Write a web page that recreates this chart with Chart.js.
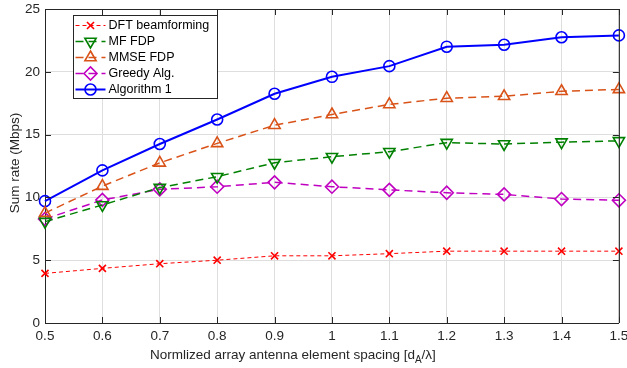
<!DOCTYPE html>
<html>
<head>
<meta charset="utf-8">
<script src="https://cdn.jsdelivr.net/npm/chart.js@4.4.1/dist/chart.umd.min.js"></script>
<style>
  html, body { margin: 0; padding: 0; background: #fff; }
  #wrap { width: 627px; height: 368px; }
</style>
</head>
<body>
<div id="wrap"><canvas id="rateChart" width="627" height="368"></canvas></div>
<script>
// values
const spacing = ['0.5', '0.6', '0.7', '0.8', '0.9', '1', '1.1', '1.2', '1.3', '1.4', '1.5'];
const dftBeamforming = [3.95, 4.35, 4.72, 5.0, 5.35, 5.35, 5.52, 5.72, 5.72, 5.72, 5.72];
const mfFdp = [8.07, 9.4, 10.78, 11.65, 12.76, 13.24, 13.64, 14.36, 14.25, 14.4, 14.5];
const mmseFdp = [8.75, 10.9, 12.75, 14.3, 15.75, 16.6, 17.4, 17.9, 18.05, 18.45, 18.6];
const greedyAlg = [8.28, 9.8, 10.64, 10.85, 11.2, 10.85, 10.6, 10.37, 10.24, 9.87, 9.77];
const algorithm1 = [9.7, 12.15, 14.25, 16.2, 18.25, 19.6, 20.45, 22.0, 22.15, 22.75, 22.9];
const yTicks = [0, 5, 10, 15, 20, 25];

const axisColor = '#262626';
const gridColor = '#dedede';
const fontFamily = '"Liberation Sans", Arial, Helvetica, sans-serif';

function series(label, data, color, style, dash, width, radius, rotation) {
    return {
        label: label,
        data: data,
        borderColor: color,
        borderWidth: width,
        borderDash: dash,
        pointStyle: style,
        pointRotation: rotation || 0,
        pointRadius: radius,
        pointHoverRadius: radius,
        pointBorderColor: color,
        pointBackgroundColor: 'rgba(0,0,0,0)',
        pointBorderWidth: 1.6,
        tension: 0,
        fill: false,
        clip: false
    };
}

// box, inward ticks and axis titles, like a matlab figure
const framePlugin = {
    id: 'frame',
    afterDraw(chart) {
        const { ctx, chartArea: a } = chart;
        const xs = chart.scales.x, ys = chart.scales.y;
        const tl = 6;
        ctx.save();
        ctx.strokeStyle = axisColor;
        ctx.lineWidth = 1;
        ctx.beginPath();
        ctx.moveTo(a.left, a.top + 0.5);
        ctx.lineTo(a.right + 0.5, a.top + 0.5);
        ctx.lineTo(a.right + 0.5, a.bottom);
        ctx.stroke();
        ctx.beginPath();
        spacing.forEach((s, i) => {
            const px = Math.round(xs.getPixelForValue(i)) + 0.5;
            ctx.moveTo(px, a.bottom); ctx.lineTo(px, a.bottom - tl);
            ctx.moveTo(px, a.top); ctx.lineTo(px, a.top + tl);
        });
        yTicks.forEach(v => {
            const py = Math.round(ys.getPixelForValue(v)) + 0.5;
            ctx.moveTo(a.left, py); ctx.lineTo(a.left + tl, py);
            ctx.moveTo(a.right, py); ctx.lineTo(a.right - tl, py);
        });
        ctx.stroke();

        // y title
        ctx.fillStyle = axisColor;
        ctx.font = '13.5px ' + fontFamily;
        ctx.textAlign = 'center';
        ctx.textBaseline = 'middle';
        ctx.save();
        ctx.translate(15, (a.top + a.bottom) / 2 - 3);
        ctx.rotate(-Math.PI / 2);
        ctx.fillText('Sum rate (Mbps)', 0, 0);
        ctx.restore();

        // x title with subscript
        const main = 'Normlized array antenna element spacing [d';
        const sub = 'A';
        const tail = '/\u03bb]';
        ctx.textAlign = 'left';
        ctx.textBaseline = 'alphabetic';
        ctx.font = '13.5px ' + fontFamily;
        const w1 = ctx.measureText(main).width;
        const w3 = ctx.measureText(tail).width;
        ctx.font = '10px ' + fontFamily;
        const w2 = ctx.measureText(sub).width;
        const total = w1 + w2 + w3;
        let x = (a.left + a.right) / 2 - 39 - total / 2;
        const base = a.bottom + 36;
        ctx.font = '13.5px ' + fontFamily;
        ctx.fillText(main, x, base);
        x += w1;
        ctx.font = '10px ' + fontFamily;
        ctx.fillText(sub, x, base + 4);
        x += w2;
        ctx.font = '13.5px ' + fontFamily;
        ctx.fillText(tail, x, base);
        ctx.restore();
    }
};

const legendPlugin = {
    id: 'insideLegend',
    afterDraw(chart) {
        const { ctx, chartArea: a } = chart;
        const sets = chart.data.datasets;
        const x0 = a.left + 28.5, y0 = a.top + 6.5;
        const rowH = 16, w = 144, h = 83;
        ctx.save();
        ctx.fillStyle = '#fff';
        ctx.fillRect(x0, y0, w, h);
        ctx.strokeStyle = axisColor;
        ctx.lineWidth = 1;
        ctx.strokeRect(x0, y0, w, h);
        ctx.font = '12.5px ' + fontFamily;
        ctx.textBaseline = 'middle';
        ctx.textAlign = 'left';
        sets.forEach((ds, i) => {
            const cy = y0 + 10 + i * rowH;
            ctx.strokeStyle = ds.borderColor;
            ctx.lineWidth = ds.borderWidth;
            ctx.setLineDash(ds.borderDash || []);
            ctx.beginPath();
            ctx.moveTo(x0 + 2, cy);
            ctx.lineTo(x0 + 32, cy);
            ctx.stroke();
            ctx.setLineDash([]);
            ctx.lineWidth = ds.pointBorderWidth;
            ctx.fillStyle = 'rgba(0,0,0,0)';
            Chart.helpers.drawPoint(ctx, {
                pointStyle: ds.pointStyle,
                rotation: ds.pointRotation,
                radius: ds.pointRadius,
                borderWidth: ds.pointBorderWidth
            }, x0 + 17, cy);
            ctx.fillStyle = '#000';
            ctx.fillText(ds.label, x0 + 35, cy + 0.5);
        });
        ctx.restore();
    }
};

const ctx = document.getElementById('rateChart').getContext('2d');
const rateChart = new Chart(ctx, {
    type: 'line',
    data: {
        labels: spacing,
        datasets: [
            series('DFT beamforming', dftBeamforming, '#ff0000', 'crossRot', [4, 3], 1, 5),
            series('MF FDP', mfFdp, '#008000', 'triangle', [8, 5], 1.5, 6.5, 180),
            series('MMSE FDP', mmseFdp, '#d95319', 'triangle', [8, 5], 1.5, 6.5),
            series('Greedy Alg.', greedyAlg, '#c000c0', 'rectRot', [8, 5], 1.5, 6.5),
            series('Algorithm 1', algorithm1, '#0000ff', 'circle', [], 2, 5.5)
        ]
    },
    options: {
        responsive: false,
        animation: false,
        devicePixelRatio: 1,
        layout: { padding: { top: 9, right: 6, left: 0, bottom: 0 } },
        plugins: {
            legend: { display: false },
            tooltip: { enabled: false }
        },
        scales: {
            x: {
                type: 'category',
                offset: false,
                grid: { color: gridColor, drawTicks: false },
                border: { display: true, color: axisColor, width: 1 },
                ticks: {
                    color: axisColor,
                    font: { family: fontFamily, size: 13.5 },
                    padding: 5,
                    maxRotation: 0,
                    autoSkip: false
                },
                afterFit(scale) {
                    scale.height = 45;
                    scale.paddingLeft = 0;
                    scale.paddingRight = 0;
                }
            },
            y: {
                min: 0,
                max: 25,
                afterBuildTicks(scale) {
                    scale.ticks = yTicks.map(v => ({ value: v }));
                },
                grid: { color: gridColor, drawTicks: false },
                border: { display: true, color: axisColor, width: 1 },
                ticks: {
                    color: axisColor,
                    font: { family: fontFamily, size: 13.5 },
                    padding: 5
                },
                afterFit(scale) {
                    scale.width = 45;
                    scale.paddingTop = 0;
                    scale.paddingBottom = 0;
                }
            }
        }
    },
    plugins: [framePlugin, legendPlugin]
});
</script>
</body>
</html>
